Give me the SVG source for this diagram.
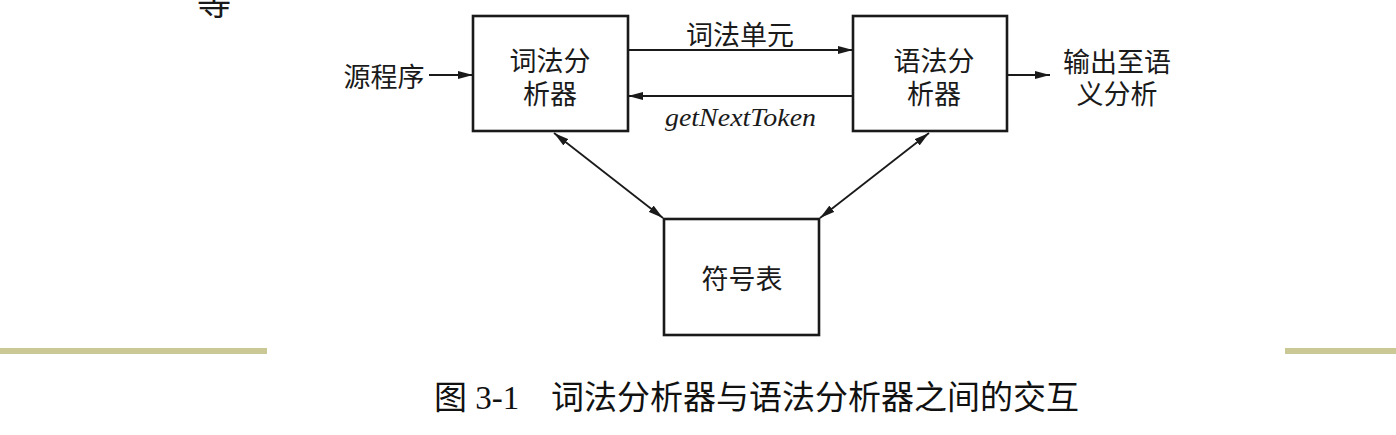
<svg xmlns="http://www.w3.org/2000/svg" width="1396" height="435" viewBox="0 0 1396 435">
<style>
.box{fill:#fff;stroke:#1a1a1a;stroke-width:2.6}
.cjk{font-family:"Noto Sans CJK SC","Noto Sans CJK JP",sans-serif;font-size:27px;fill:#1a1a1a}
.lbl{text-anchor:middle;dominant-baseline:central}
.ln{stroke:#1a1a1a;stroke-width:1.8;fill:none}
.it{font-family:"Liberation Serif",serif;font-style:italic;font-size:26px;fill:#1a1a1a}
.cap{font-family:"Liberation Serif","Noto Sans CJK SC",serif;font-size:33px;fill:#111;dominant-baseline:central}
.bar{fill:#cac895}
</style>
<defs>
<marker id="ah" viewBox="0 0 15 8" refX="15" refY="4" markerWidth="15" markerHeight="8" markerUnits="userSpaceOnUse" orient="auto-start-reverse">
<path d="M0,0 L15,4 L0,8 z" fill="#1a1a1a"/>
</marker>
</defs>
<text class="cjk" x="197" y="15" style="font-size:34px">等</text>
<g id="lexer">
<rect class="box" x="473" y="16" width="155" height="115"/>
<text class="cjk lbl" x="550" y="59">词法分<tspan x="550" dy="33">析器</tspan></text>
</g>
<g id="parser">
<rect class="box" x="853" y="16" width="154" height="115"/>
<text class="cjk lbl" x="934" y="59">语法分<tspan x="934" dy="33">析器</tspan></text>
</g>
<g id="symtab">
<rect class="box" x="664" y="219" width="155" height="116"/>
<text class="cjk lbl" x="742" y="277">符号表</text>
</g>
<g id="source">
<text class="cjk lbl" x="384" y="75">源程序</text>
</g>
<g id="output">
<text class="cjk lbl" x="1117" y="60">输出至语<tspan x="1117" dy="32">义分析</tspan></text>
</g>
<g id="connectors">
<line class="ln" x1="429" y1="75" x2="473" y2="75" marker-end="url(#ah)"/>
<line class="ln" x1="628" y1="50" x2="853" y2="50" marker-end="url(#ah)"/>
<line class="ln" x1="853" y1="96" x2="628" y2="96" marker-end="url(#ah)"/>
<line class="ln" x1="1007" y1="75" x2="1050" y2="75" marker-end="url(#ah)"/>
<line class="ln" x1="554" y1="133" x2="663" y2="218" marker-start="url(#ah)" marker-end="url(#ah)"/>
<line class="ln" x1="929" y1="133" x2="820" y2="218" marker-start="url(#ah)" marker-end="url(#ah)"/>
<text class="cjk lbl" x="740" y="33">词法单元</text>
<text class="it" x="665" y="126" textLength="151" lengthAdjust="spacingAndGlyphs">getNextToken</text>
</g>
<rect class="bar" x="0" y="348" width="267" height="6"/>
<rect class="bar" x="1285" y="348" width="111" height="6"/>
<text class="cap" x="434" y="398">图 3-1</text>
<text class="cap" x="551" y="398">词法分析器与语法分析器之间的交互</text>
</svg>
